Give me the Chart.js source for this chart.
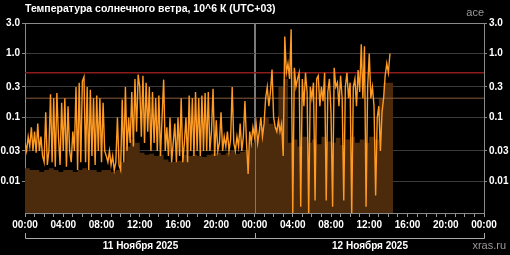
<!DOCTYPE html>
<html>
<head>
<meta charset="utf-8">
<script src="https://cdn.jsdelivr.net/npm/chart.js@4"></script>
<style>
  html, body { margin: 0; padding: 0; background: #000; }
  #wrap { width: 510px; height: 255px; }
</style>
</head>
<body>
<div id="wrap"><canvas id="chart" width="510" height="255"></canvas></div>
<script>
const title = "Температура солнечного ветра, 10^6 К (UTC+03)";
const dayLabels = ["11 Ноября 2025", "12 Ноября 2025"];
const yTickValues = [3, 1, 0.3, 0.1, 0.03, 0.01];
const yTickLabels = ["3.0", "1.0", "0.3", "0.1", "0.03", "0.01"];
const levels = [0.5, 0.2];

// temperature, one value every 10 minutes from 11 Nov 00:00
const lineStepMin = 10;
const lineTemp = [
  0.04, 0.03, 0.05, 0.035, 0.07, 0.03,
  0.06, 0.028, 0.08, 0.03, 0.05, 0.025,
  0.02, 0.12, 0.018, 0.03, 0.23, 0.02,
  0.2, 0.017, 0.24, 0.05, 0.018, 0.17,
  0.03, 0.2, 0.017, 0.15, 0.03, 0.02,
  0.06, 0.03, 0.3, 0.015, 0.35, 0.02,
  0.37, 0.43, 0.02, 0.3, 0.015, 0.27,
  0.025, 0.2, 0.018, 0.22, 0.03, 0.2,
  0.02, 0.17, 0.03, 0.025, 0.02, 0.03,
  0.018, 0.025, 0.015, 0.02, 0.1, 0.018,
  0.015, 0.19, 0.02, 0.3, 0.03, 0.1,
  0.04, 0.25, 0.035, 0.4, 0.06, 0.47,
  0.3, 0.05, 0.45, 0.04, 0.35, 0.06,
  0.3, 0.03, 0.25, 0.04, 0.2, 0.03,
  0.22, 0.025, 0.1, 0.39, 0.03, 0.07,
  0.025, 0.1, 0.02, 0.04, 0.08, 0.02,
  0.1, 0.025, 0.2, 0.02, 0.04, 0.1,
  0.02, 0.22, 0.03, 0.2, 0.025, 0.25,
  0.03, 0.2, 0.025, 0.22, 0.03, 0.24,
  0.03, 0.25, 0.03, 0.06, 0.28, 0.025,
  0.09, 0.03, 0.04, 0.12, 0.03, 0.05,
  0.035, 0.06, 0.03, 0.045, 0.3, 0.04,
  0.03, 0.05, 0.035, 0.08, 0.03, 0.05,
  0.18, 0.04, 0.013, 0.06, 0.04, 0.07,
  0.05, 0.08, 0.04, 0.06, 0.1, 0.05,
  0.08, 0.2, 0.3, 0.15, 0.25, 0.56,
  0.1, 0.07, 0.06, 0.09, 0.06, 0.08,
  0.025, 1.85, 0.5, 0.7, 0.4, 2.4,
  0.003, 0.6, 0.3, 0.4, 0.5, 0.004,
  0.4, 0.15, 0.5, 0.25, 0.003, 0.3,
  0.2, 0.35, 0.005, 0.4, 0.45, 0.15,
  0.3, 0.18, 0.5, 0.005, 0.25, 0.4,
  0.12, 0.004, 0.6, 0.3, 0.35, 0.15,
  0.45, 0.2, 0.005, 0.3, 0.5, 0.2,
  0.35, 0.003, 0.3, 0.4, 0.15, 0.55,
  0.25, 1.4, 0.2, 1.3, 0.004, 0.3,
  1.0, 0.2, 0.3, 0.15, 0.006, 0.1,
  0.15, 0.03, 0.12, 0.2, 0.45, 0.7,
  0.5, 1.0
];

// lower (background) level, one value every 30 minutes
const fillStepMin = 30;
const fillTemp = [
  0.02, 0.016, 0.015, 0.015, 0.014, 0.015, 0.016, 0.015, 0.014, 0.015,
  0.015, 0.014, 0.015, 0.016, 0.015, 0.015, 0.014, 0.015, 0.015, 0.014,
  0.015, 0.02, 0.035, 0.045, 0.04, 0.028, 0.026, 0.027, 0.025, 0.026,
  0.022, 0.02, 0.02, 0.021, 0.026, 0.025, 0.026, 0.025, 0.024, 0.026,
  0.027, 0.028, 0.026, 0.028, 0.03, 0.027, 0.029, 0.03, 0.04, 0.045,
  0.07, 0.1, 0.08, 0.07, 0.3, 0.4, 0.04, 0.045, 0.035, 0.05,
  0.04, 0.045, 0.038, 0.05, 0.042, 0.04, 0.048, 0.037, 0.045, 0.05,
  0.04, 0.045, 0.04, 0.05, 0.045, 0.2, 0.35, 0.35
];

const linePts = lineTemp.map((v, i) => ({ x: i * lineStepMin / 60, y: v }));
const fillPts = fillTemp.map((v, i) => ({ x: i * fillStepMin / 60, y: v }));

const FONT = '"Liberation Sans", Arial, sans-serif';

const decor = {
  id: 'decor',
  afterDatasetDraw(chart, args) {
    // day divider sits above the brown fill, below the curves
    if (args.index !== 3) return;
    const c = chart.ctx, a = chart.chartArea;
    const x = Math.round(chart.scales.x.getPixelForValue(24)) + 0.5;
    c.save();
    c.strokeStyle = '#7a7a7a';
    c.lineWidth = 1;
    c.beginPath(); c.moveTo(x, a.top); c.lineTo(x, a.bottom); c.stroke();
    c.restore();
  },
  afterDraw(chart) {
    const c = chart.ctx, xs = chart.scales.x, a = chart.chartArea;
    c.save();
    c.textBaseline = 'middle';
    c.fillStyle = '#fff';
    c.font = 'bold 10.5px ' + FONT;
    c.textAlign = 'left';
    c.fillText(title, a.left, 9);
    c.fillStyle = '#9a9a9a';
    c.font = '11px ' + FONT;
    c.textAlign = 'right';
    c.fillText('ace', a.right, 13);
    c.fillText('xras.ru', 506, 246);
    c.strokeStyle = '#aaa';
    c.lineWidth = 1;
    [[0, 24], [24, 48]].forEach(([h0, h1], i) => {
      const x0 = Math.round(xs.getPixelForValue(h0)) + 0.5;
      const x1 = Math.round(xs.getPixelForValue(h1)) + 0.5;
      c.beginPath();
      c.moveTo(x0, 233); c.lineTo(x0, 238.5); c.lineTo(x1, 238.5); c.lineTo(x1, 233);
      c.stroke();
      c.fillStyle = '#fff';
      c.font = 'bold 10px ' + FONT;
      c.textAlign = 'center';
      c.fillText(dayLabels[i], (x0 + x1) / 2, 246);
    });
    c.restore();
  }
};

function yAxis(pos, w) {
  return {
    type: 'logarithmic',
    position: pos,
    min: 0.0032,
    max: 3,
    afterFit: s => { s.width = w; },
    afterBuildTicks: s => { s.ticks = yTickValues.map(v => ({ value: v })); },
    grid: {
      drawOnChartArea: pos === 'left',
      color: ctx => ctx.tick && ctx.tick.value === 3 ? '#8a8a8a' : '#3a3a3a',
      tickColor: '#8a8a8a',
      tickLength: 3
    },
    border: { color: '#8a8a8a' },
    ticks: {
      color: '#fff',
      padding: 2,
      font: { family: FONT, size: 10, weight: 'bold' },
      callback: (v, i) => yTickLabels[i]
    }
  };
}

new Chart(document.getElementById('chart'), {
  type: 'line',
  data: {
    datasets: [
      { data: linePts, borderColor: '#ff9a22', borderWidth: 1.4, pointRadius: 0, fill: false },
      { data: [{ x: 0, y: levels[0] }, { x: 48, y: levels[0] }], borderColor: '#8e1c1c', borderWidth: 1.5, pointRadius: 0 },
      { data: [{ x: 0, y: levels[1] }, { x: 48, y: levels[1] }], borderColor: '#8a5a3c', borderWidth: 1, pointRadius: 0 },
      { data: fillPts, stepped: 'after', borderColor: 'transparent', borderWidth: 0,
        backgroundColor: '#4c2b0c', fill: 'start', pointRadius: 0 }
    ]
  },
  options: {
    responsive: false,
    animation: false,
    devicePixelRatio: 1,
    layout: { padding: { top: 23, left: 0, right: 0, bottom: 0 } },
    plugins: { legend: { display: false }, tooltip: { enabled: false } },
    scales: {
      x: {
        type: 'linear',
        min: 0,
        max: 48,
        afterFit: s => { s.height = 42; },
        afterBuildTicks: s => { s.ticks = Array.from({ length: 49 }, (_, h) => ({ value: h })); },
        grid: {
          color: ctx => ctx.tick && ctx.tick.value === 24 ? '#7a7a7a' : 'transparent',
          tickColor: '#9a9a9a',
          tickLength: 4
        },
        border: { color: '#8a8a8a' },
        ticks: {
          autoSkip: false,
          maxRotation: 0,
          color: '#fff',
          padding: 2,
          font: { family: FONT, size: 10, weight: 'bold' },
          callback: v => v % 4 === 0 ? String(v % 24).padStart(2, '0') + ':00' : ''
        }
      },
      y: yAxis('left', 25),
      y2: yAxis('right', 26)
    }
  },
  plugins: [decor]
});
</script>
</body>
</html>
